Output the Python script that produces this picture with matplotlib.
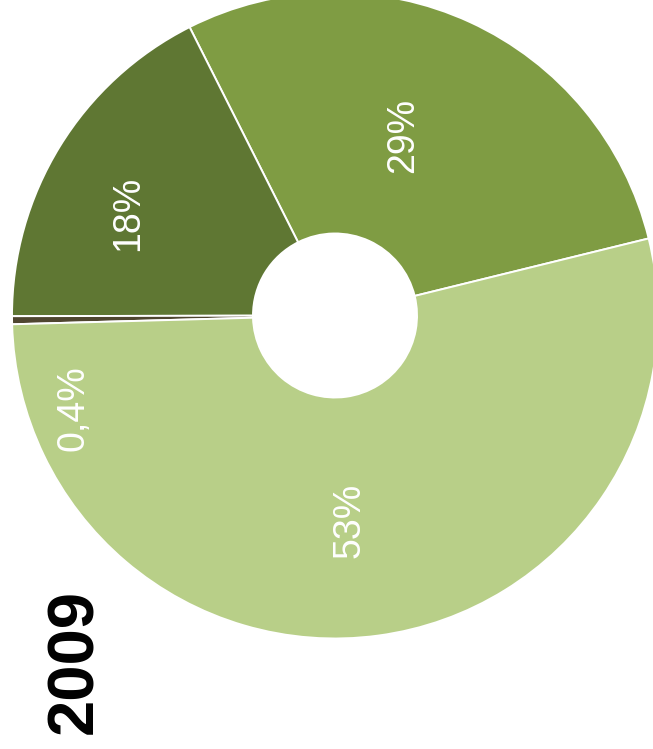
import matplotlib
matplotlib.use("Agg")
import matplotlib.pyplot as plt
from matplotlib import font_manager

# Data
categories = ["A", "B", "C", "D"]
values = [28.6, 17.6, 0.4, 53.4]
labels = ["29%", "18%", "0,4%", "53%"]
colors = ["#7f9c43", "#5f7733", "#4f4630", "#b8cf88"]
year = "2009"

W, H = 653, 749
fig = plt.figure(figsize=(W / 100, H / 100), dpi=100)
ax = fig.add_axes([0, 0, 1, 1])

cx, cy = 335, H - 315.5
R, r_in = 323, 82

ax.pie(values, colors=colors, startangle=13.8, counterclock=True,
       radius=R, center=(cx, cy), frame=False,
       wedgeprops=dict(width=R - r_in, edgecolor="white", linewidth=1.4))
ax.set_xlim(0, W)
ax.set_ylim(0, H)
ax.set_aspect("auto")
ax.axis("off")

names = [f.name for f in font_manager.fontManager.ttflist]
lab_font = "Liberation Sans Narrow" if "Liberation Sans Narrow" in names else "Liberation Sans"

# label positions (pixel coords, top-left origin)
label_pos = [(403, 135), (128, 213), (73, 408), (350, 520)]
for (px, py), t in zip(label_pos, labels):
    ax.text(px, H - py, t, rotation=90, ha="center", va="center",
            color="white", fontsize=27, family=[lab_font, "DejaVu Sans"])

ax.text(75, H - 661, year, rotation=90, ha="center", va="center",
        color="black", fontsize=47, fontweight="bold",
        family=["Liberation Sans", "DejaVu Sans"])

fig.savefig("out.png", dpi=100)
